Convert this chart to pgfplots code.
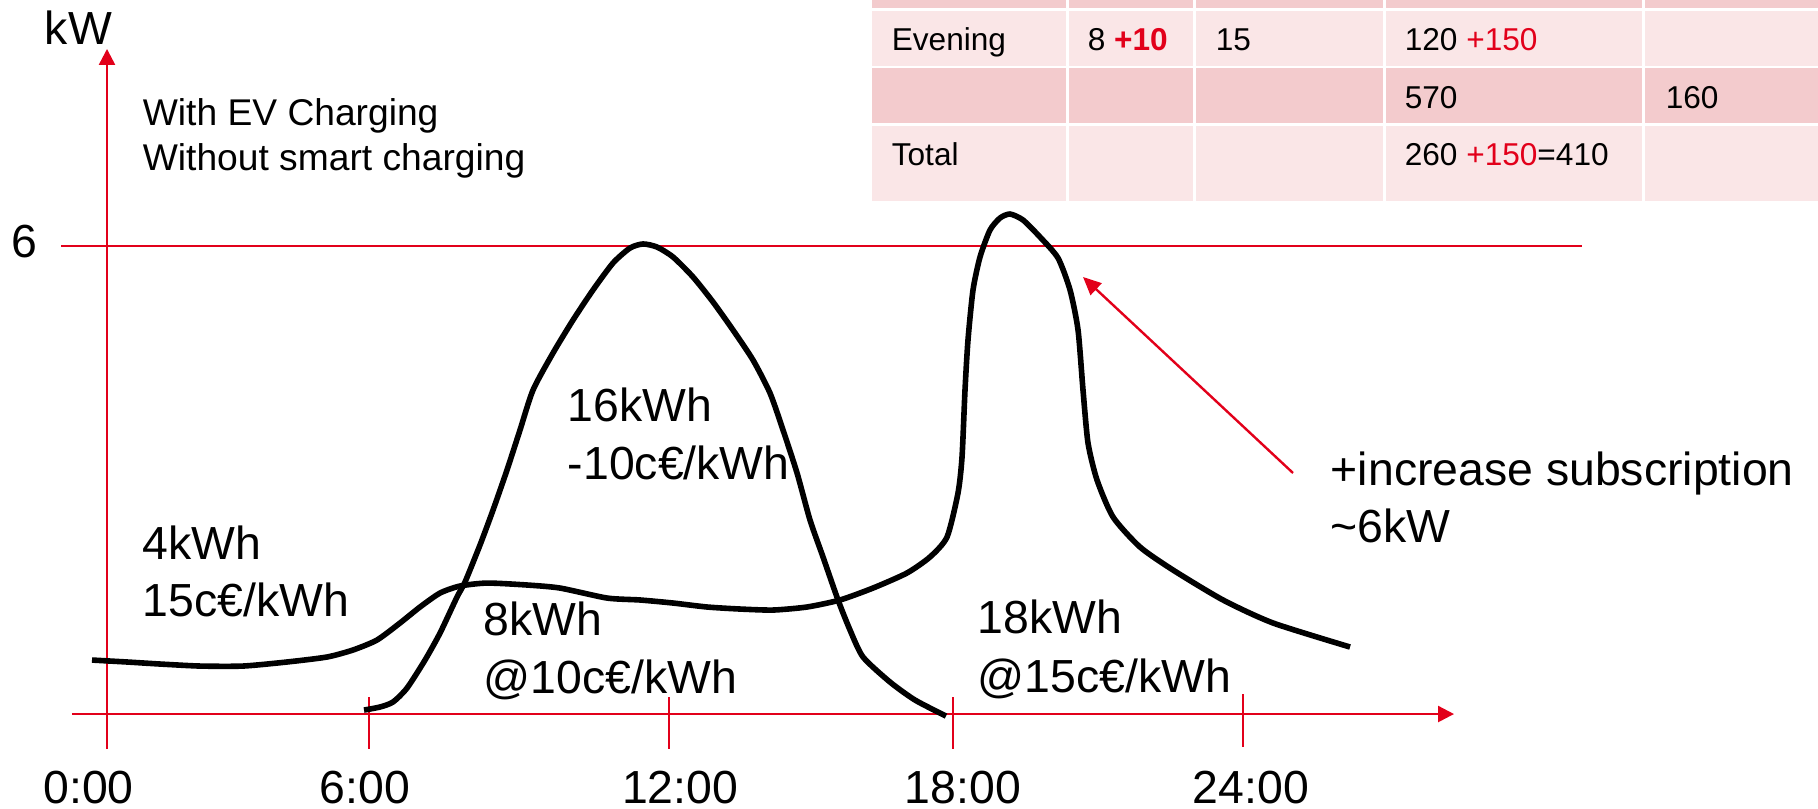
\documentclass[border=0pt]{standalone}
\usepackage{pgfplots}
\pgfplotsset{compat=1.18}
\usepackage{fontspec}
\setmainfont{Liberation Sans}
\usetikzlibrary{arrows.meta}
\definecolor{edfred}{RGB}{226,0,26}
\definecolor{pinkD}{RGB}{243,203,205}
\definecolor{pinkL}{RGB}{250,230,231}
\newcommand{\bigf}{\fontsize{11.6}{13.9}\selectfont}
\newcommand{\midf}{\fontsize{9.3}{11.2}\selectfont}
\newcommand{\tabf}{\fontsize{7.9}{9.5}\selectfont}
\begin{document}
\begin{tikzpicture}
\begin{axis}[
  x=11.8325pt, y=19.5pt,
  xmin=-0.74, xmax=28.46, ymin=-0.449, ymax=8.526,
  axis lines=middle,
  axis line style={edfred, line width=0.6pt, -{Triangle[length=4pt,width=4pt]}},
  clip=false,
  xtick={-0.391,5.45,12.108,18.085,24.17},
  xticklabels={0:00,6:00,12:00,18:00,24:00},
  ytick={6}, yticklabels={6},
  major tick length=0pt,
  hide obscured x ticks=false,
  hide obscured y ticks=false,
  xticklabel style={font=\bigf, anchor=base, inner sep=0pt, yshift=-22.25pt},
  yticklabel style={font=\bigf, anchor=base east, inner sep=0pt, xshift=-17.25pt, yshift=-2.75pt},
]
% bounding box of the reference
\path (axis cs:-2.261,-1.205) rectangle (axis cs:36.15,9.154);

% table (cut at the top)
\fill[pinkD] (axis cs:16.163,9.154) rectangle (axis cs:36.15,9.051);
\fill[pinkL] (axis cs:16.163,9.013) rectangle (axis cs:36.15,8.308);
\fill[pinkD] (axis cs:16.163,8.282) rectangle (axis cs:36.15,7.577);
\fill[pinkL] (axis cs:16.163,7.538) rectangle (axis cs:36.15,6.577);
\fill[white] (axis cs:20.262,9.154) rectangle (axis cs:20.325,6.577);
\fill[white] (axis cs:22.945,9.154) rectangle (axis cs:23.009,6.577);
\fill[white] (axis cs:26.960,9.154) rectangle (axis cs:27.023,6.577);
\fill[white] (axis cs:32.432,9.154) rectangle (axis cs:32.495,6.577);
\begin{scope}[every node/.style={anchor=base west, inner sep=0pt, font=\tabf}]
\node at (axis cs:16.565,8.5) {Evening};
\node at (axis cs:20.706,8.5) {8 \textcolor{edfred}{\textbf{+10}}};
\node at (axis cs:23.410,8.5) {15};
\node at (axis cs:27.403,8.5) {120 \textcolor{edfred}{+150}};
\node at (axis cs:27.403,7.769) {570};
\node at (axis cs:32.918,7.769) {160};
\node at (axis cs:16.565,7.026) {Total};
\node at (axis cs:27.403,7.026) {260 \textcolor{edfred}{+150}=410};
\end{scope}

% 6 kW line
\addplot[edfred, line width=0.6pt] coordinates {(-0.97,6) (31.16,6)};

% tick marks
\draw[edfred, line width=0.6pt] (axis cs:5.535,0.218) -- (axis cs:5.535,-0.449);
\draw[edfred, line width=0.6pt] (axis cs:11.87,0.218) -- (axis cs:11.87,-0.449);
\draw[edfred, line width=0.6pt] (axis cs:17.87,0.218) -- (axis cs:17.87,-0.449);
\draw[edfred, line width=0.6pt] (axis cs:24,0.256) -- (axis cs:24,-0.423);

% base load with evening peak
\addplot[black, line width=1.4pt, smooth, tension=0.4] coordinates {
(-0.317,0.692) (0.423,0.667) (1.120,0.641) (1.965,0.615) (2.873,0.615)
(3.803,0.667) (4.648,0.731) (5.198,0.821) (5.705,0.949) (6.191,1.167)
(6.613,1.372) (7.036,1.551) (7.458,1.641) (8.029,1.679) (8.874,1.654)
(9.571,1.615) (10.564,1.487) (11.261,1.462) (11.959,1.423) (12.677,1.372)
(13.374,1.346) (14.071,1.333) (14.790,1.372) (15.487,1.462) (16.184,1.615)
(16.902,1.808) (17.388,2.013) (17.748,2.269) (17.980,2.833) (18.065,3.295)
(18.128,4.154) (18.191,4.795) (18.297,5.436) (18.445,5.859) (18.656,6.205)
(18.868,6.359) (19.079,6.410) (19.354,6.333) (19.713,6.115) (20.093,5.846)
(20.347,5.436) (20.516,4.923) (20.621,4.154) (20.727,3.474) (20.917,3.000)
(21.255,2.526) (21.825,2.141) (22.523,1.846) (23.579,1.462) (24.636,1.167)
(26.263,0.859)};

% EV charging bump
\addplot[black, line width=1.4pt, smooth, tension=0.4] coordinates {
(5.430,0.051) (5.768,0.090) (6.043,0.154) (6.339,0.333) (6.719,0.692)
(7.036,1.038) (7.395,1.500) (7.564,1.692) (7.881,2.167) (8.156,2.615)
(8.451,3.128) (8.726,3.641) (9.001,4.154) (9.423,4.628) (9.846,5.051)
(10.268,5.436) (10.691,5.782) (11.050,5.974) (11.325,6.026) (11.620,5.987)
(11.959,5.859) (12.381,5.603) (12.804,5.282) (13.226,4.923) (13.649,4.538)
(14.008,4.115) (14.283,3.641) (14.579,3.090) (14.853,2.487) (15.128,2.013)
(15.445,1.462) (15.698,1.077) (15.973,0.731) (16.543,0.410) (17.072,0.179)
(17.727,-0.026)};

% arrow to the evening peak
\draw[edfred, line width=0.6pt, -{Triangle[length=4.5pt,width=4pt]}] (axis cs:25.058,3.090) -- (axis cs:20.621,5.603);

% annotations
\begin{scope}[every node/.style={anchor=base west, inner sep=0pt, font=\bigf}]
\node at (axis cs:-1.331,8.577) {kW};
\node at (axis cs:0.740,1.987) {4kWh};
\node at (axis cs:0.740,1.244) {15c€/kWh};
\node at (axis cs:9.719,3.744) {16kWh};
\node at (axis cs:9.719,3.013) {-10c€/kWh};
\node at (axis cs:7.944,1.013) {8kWh};
\node at (axis cs:7.944,0.269) {@10c€/kWh};
\node at (axis cs:18.381,1.026) {18kWh};
\node at (axis cs:18.381,0.282) {@15c€/kWh};
\node at (axis cs:25.840,2.936) {+increase subscription};
\node at (axis cs:25.840,2.205) {\textasciitilde6kW};
\end{scope}
\begin{scope}[every node/.style={anchor=base west, inner sep=0pt, font=\midf}]
\node at (axis cs:0.740,7.551) {With EV Charging};
\node at (axis cs:0.740,6.974) {Without smart charging};
\end{scope}
\end{axis}
\end{tikzpicture}
\end{document}
